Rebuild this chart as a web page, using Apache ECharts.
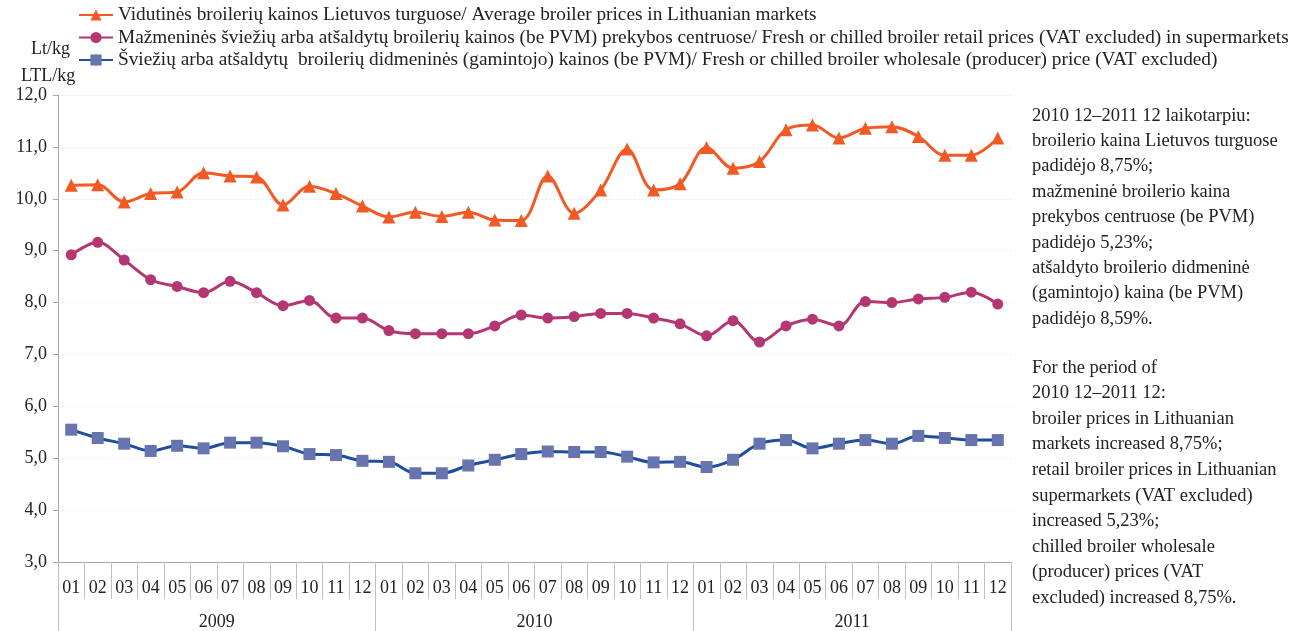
<!DOCTYPE html>
<html>
<head>
<meta charset="utf-8">
<script src="https://cdn.jsdelivr.net/npm/echarts@6/dist/echarts.min.js"></script>
<style>
html,body{margin:0;padding:0;background:#fff;}
#c{width:1307px;height:631px;}
</style>
</head>
<body>
<div id="c"></div>
<script>
const months = ['01','02','03','04','05','06','07','08','09','10','11','12',
                '01','02','03','04','05','06','07','08','09','10','11','12',
                '01','02','03','04','05','06','07','08','09','10','11','12'];
const years = ['2009','2010','2011'];
const yTicks = {min: 3, max: 12, interval: 1};

const marketName = 'Vidutinės broilerių kainos Lietuvos turguose/ Average broiler prices in Lithuanian markets';
const retailName = 'Mažmeninės šviežių arba atšaldytų broilerių kainos (be PVM) prekybos centruose/ Fresh or chilled broiler retail prices (VAT excluded) in supermarkets';
const wholesaleName = 'Šviežių arba atšaldytų  broilerių didmeninės (gamintojo) kainos (be PVM)/ Fresh or chilled broiler wholesale (producer) price (VAT excluded)';

const marketPrices = [10.26,10.27,9.94,10.10,10.13,10.50,10.44,10.42,9.88,10.24,10.10,9.86,
                      9.65,9.74,9.66,9.74,9.59,9.58,10.44,9.72,10.17,10.96,10.17,10.29,
                      10.99,10.59,10.72,11.33,11.42,11.17,11.36,11.39,11.20,10.84,10.84,11.17];
const retailPrices = [8.92,9.16,8.82,8.44,8.31,8.19,8.41,8.19,7.94,8.04,7.70,7.70,
                      7.46,7.40,7.40,7.40,7.55,7.76,7.70,7.73,7.79,7.79,7.70,7.59,
                      7.36,7.65,7.24,7.55,7.68,7.55,8.02,8.00,8.07,8.10,8.20,7.97];
const wholesalePrices = [5.55,5.39,5.28,5.14,5.24,5.19,5.30,5.30,5.23,5.08,5.06,4.95,
                         4.93,4.71,4.71,4.86,4.97,5.08,5.13,5.12,5.12,5.03,4.92,4.93,
                         4.83,4.97,5.28,5.35,5.19,5.28,5.35,5.28,5.43,5.39,5.35,5.35];

const noteLt = ['2010 12–2011 12 laikotarpiu:','broilerio kaina Lietuvos turguose','padidėjo 8,75%;','mažmeninė broilerio kaina','prekybos centruose (be PVM)','padidėjo 5,23%;','atšaldyto broilerio didmeninė','(gamintojo) kaina (be PVM)','padidėjo 8,59%.'];
const noteEn = ['For the period of','2010 12–2011 12:','broiler prices in Lithuanian','markets increased 8,75%;','retail broiler prices in Lithuanian','supermarkets (VAT excluded)','increased 5,23%;','chilled broiler wholesale','(producer) prices (VAT','excluded) increased 8,75%.'];

const FONT = '"Liberation Serif", "Times New Roman", serif';
const TXT = '#222';

const chart = echarts.init(document.getElementById('c'), null, {renderer: 'canvas'});
chart.setOption({
  animation: false,
  backgroundColor: '#fff',
  textStyle: {fontFamily: FONT, color: TXT},
  grid: {left: 58, right: 296, top: 95, bottom: 69, containLabel: false},
  legend: {
    orient: 'vertical', left: 73, top: 0,
    itemWidth: 34, itemHeight: 14, itemGap: 2.5,
    textStyle: {fontFamily: FONT, fontSize: 19.3, color: TXT, lineHeight: 20},
    data: [marketName, retailName, wholesaleName]
  },
  graphic: [
    {type: 'text', left: 31, top: 40, style: {text: 'Lt/kg', font: '18px ' + FONT, fill: TXT}},
    {type: 'text', left: 21, top: 67, style: {text: 'LTL/kg', font: '18px ' + FONT, fill: TXT}},
    {type: 'text', left: 1032, top: 103, style: {text: noteLt.join('\n'), font: '18.5px ' + FONT, fill: TXT, lineHeight: 25.4}},
    {type: 'text', left: 1032, top: 355, style: {text: noteEn.join('\n'), font: '18.5px ' + FONT, fill: TXT, lineHeight: 25.6}}
  ],
  xAxis: [
    {
      type: 'category', data: months, position: 'bottom', boundaryGap: true,
      axisLine: {show: true, lineStyle: {color: '#A6A6A6', width: 1}},
      axisTick: {show: true, length: 37, interval: 0, lineStyle: {color: '#BFBFBF'}},
      axisLabel: {interval: 0, margin: 17, fontSize: 18, color: TXT, fontFamily: FONT},
      splitLine: {show: false}
    },
    {
      type: 'category', data: years, position: 'bottom', boundaryGap: true,
      axisLine: {show: false},
      axisTick: {show: true, length: 75, interval: 0, lineStyle: {color: '#BFBFBF'}},
      axisLabel: {interval: 0, margin: 51, fontSize: 18, color: TXT, fontFamily: FONT},
      splitLine: {show: false}
    }
  ],
  yAxis: {
    type: 'value', min: yTicks.min, max: yTicks.max, interval: yTicks.interval,
    axisLine: {show: true, lineStyle: {color: '#A6A6A6'}},
    axisTick: {show: true, length: 5, lineStyle: {color: '#A6A6A6'}},
    axisLabel: {fontSize: 18, color: TXT, fontFamily: FONT, margin: 11,
      formatter: v => v.toFixed(1).replace('.', ',')},
    splitLine: {show: true, lineStyle: {color: '#D9D9D9', type: [1, 3], width: 1}}
  },
  series: [
    {
      name: marketName, type: 'line', xAxisIndex: 0, data: marketPrices,
      smooth: 0.35, symbol: 'triangle', symbolSize: 13,
      lineStyle: {color: '#F15A24', width: 3},
      itemStyle: {color: '#F15A24'}
    },
    {
      name: retailName, type: 'line', xAxisIndex: 0, data: retailPrices,
      smooth: 0.35, symbol: 'circle', symbolSize: 11,
      lineStyle: {color: '#B43673', width: 3},
      itemStyle: {color: '#B43673'}
    },
    {
      name: wholesaleName, type: 'line', xAxisIndex: 0, data: wholesalePrices,
      smooth: 0.35, symbol: 'rect', symbolSize: 12,
      lineStyle: {color: '#1F4E9E', width: 3},
      itemStyle: {color: '#6874AE'}
    }
  ]
});
</script>
</body>
</html>
